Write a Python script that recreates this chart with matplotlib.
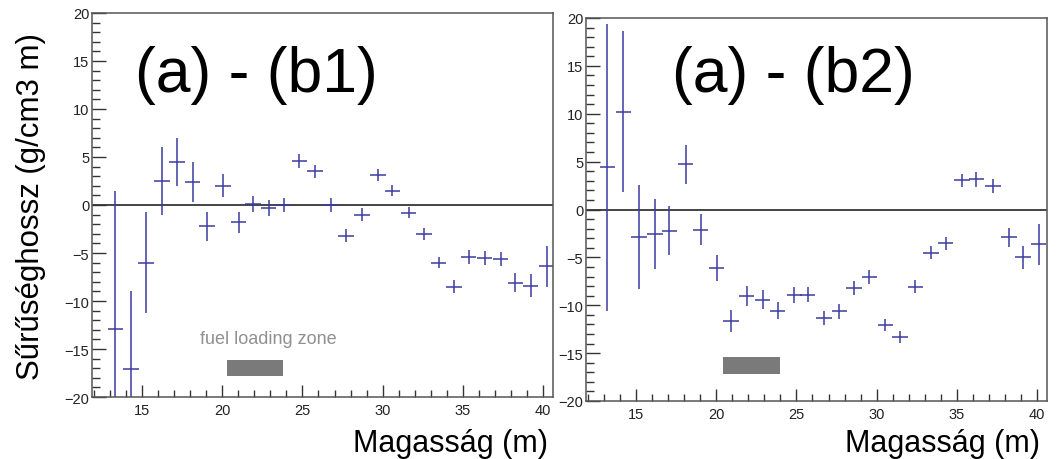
import matplotlib.pyplot as plt
from matplotlib.ticker import MultipleLocator
from matplotlib.patches import Rectangle

# (a) - (b1)
x_b1 = [13.34, 14.31, 15.25, 16.25, 17.18, 18.16, 19.05, 20.05, 21.03, 21.92,
        22.90, 23.84, 24.81, 25.77, 26.79, 27.72, 28.72, 29.70, 30.60, 31.63,
        32.57, 33.50, 34.44, 35.37, 36.35, 37.35, 38.28, 39.22, 40.22]
y_b1 = [-12.9, -17.1, -6.0, 2.5, 4.5, 2.4, -2.2, 2.0, -1.8, 0.1,
        -0.3, 0.0, 4.6, 3.5, 0.0, -3.2, -1.0, 3.1, 1.5, -0.8,
        -3.0, -6.0, -8.5, -5.4, -5.5, -5.6, -8.1, -8.4, -6.4]
err_b1 = [14.4, 8.1, 5.3, 3.5, 2.5, 2.05, 1.5, 1.2, 1.1, 0.85,
          0.8, 0.75, 0.75, 0.7, 0.75, 0.7, 0.65, 0.63, 0.6, 0.6,
          0.6, 0.6, 0.65, 0.7, 0.75, 0.75, 1.0, 1.2, 2.1]

# (a) - (b2)
x_b2 = [13.21, 14.21, 15.19, 16.18, 17.08, 18.10, 19.03, 20.03, 20.92, 21.90,
        22.90, 23.83, 24.86, 25.70, 26.71, 27.67, 28.58, 29.54, 30.55, 31.45,
        32.42, 33.38, 34.30, 35.33, 36.22, 37.26, 38.24, 39.13, 40.10]
y_b2 = [4.4, 10.2, -2.9, -2.55, -2.2, 4.7, -2.1, -6.1, -11.6, -9.0,
        -9.4, -10.55, -8.9, -8.9, -11.3, -10.65, -8.2, -7.05, -12.05, -13.3,
        -8.05, -4.5, -3.55, 3.05, 3.15, 2.45, -2.9, -5.0, -3.65]
err_b2 = [15.0, 8.4, 5.45, 3.65, 2.55, 2.0, 1.65, 1.35, 1.15, 1.05,
          0.95, 0.9, 0.85, 0.8, 0.75, 0.75, 0.7, 0.7, 0.65, 0.65,
          0.7, 0.7, 0.7, 0.7, 0.75, 0.75, 1.0, 1.2, 2.1]

bin_half = 0.48
zone_b1 = (20.3, 23.8, -17.8, -16.1)
zone_b2 = (20.45, 23.95, -17.2, -15.45)

fig = plt.figure(figsize=(10.58, 4.6), dpi=100)
ax1 = fig.add_axes([92 / 1058, 1 - 398 / 460, 461 / 1058, 384 / 460])
ax2 = fig.add_axes([586 / 1058, 1 - 402 / 460, 461 / 1058, 383 / 460])

tick_font = ['Liberation Sans Narrow', 'Liberation Sans', 'DejaVu Sans']

for ax, xs, ys, es, zone in [(ax1, x_b1, y_b1, err_b1, zone_b1),
                             (ax2, x_b2, y_b2, err_b2, zone_b2)]:
    ax.axhline(0, color='#444444', lw=1.4, zorder=1)
    ax.errorbar(xs, ys, yerr=es, xerr=bin_half, fmt='none',
                ecolor='#3b3b9e', elinewidth=1.1, capsize=0, zorder=2)
    x0, x1, y0, y1 = zone
    ax.add_patch(Rectangle((x0, y0), x1 - x0, y1 - y0,
                           facecolor='#7a7a7a', edgecolor='none', zorder=3))
    ax.set_xlim(11.88, 40.62)
    ax.set_ylim(-20, 20)
    ax.xaxis.set_major_locator(MultipleLocator(5))
    ax.xaxis.set_minor_locator(MultipleLocator(1))
    ax.yaxis.set_major_locator(MultipleLocator(5))
    ax.yaxis.set_minor_locator(MultipleLocator(1))
    ax.tick_params(axis='both', which='both', direction='in', colors='#333333',
                   top=False, right=False)
    ax.tick_params(axis='y', which='major', length=10, width=1, pad=2)
    ax.tick_params(axis='y', which='minor', length=5.5, width=1)
    ax.tick_params(axis='x', which='major', length=9, width=1, pad=4)
    ax.tick_params(axis='x', which='minor', length=5, width=1)
    for lab in ax.get_xticklabels() + ax.get_yticklabels():
        lab.set_family(tick_font)
        lab.set_fontsize(10.5)
        lab.set_color('#222222')
    for sp in ax.spines.values():
        sp.set_color('#555555')
        sp.set_linewidth(1.1)

ax1.text(18.6, -13.9, 'fuel loading zone', color='#909090', fontsize=13,
         family='Liberation Sans', va='center', ha='left')

fig.text(135 / 1058, 1 - 76 / 460, '(a) - (b1)', fontsize=45,
         family='Liberation Sans', va='center', ha='left')
fig.text(672 / 1058, 1 - 76 / 460, '(a) - (b2)', fontsize=45,
         family='Liberation Sans', va='center', ha='left')

fig.text(31 / 1058, 1 - 206 / 460, 'Sűrűséghossz (g/cm3 m)', fontsize=22.5,
         family='Liberation Sans', rotation=90, va='center', ha='center')
fig.text(548 / 1058, 1 - 452 / 460, 'Magasság (m)', fontsize=22,
         family='Liberation Sans', va='baseline', ha='right')
fig.text(1040 / 1058, 1 - 452 / 460, 'Magasság (m)', fontsize=22,
         family='Liberation Sans', va='baseline', ha='right')

fig.savefig('out.png', dpi=100)
